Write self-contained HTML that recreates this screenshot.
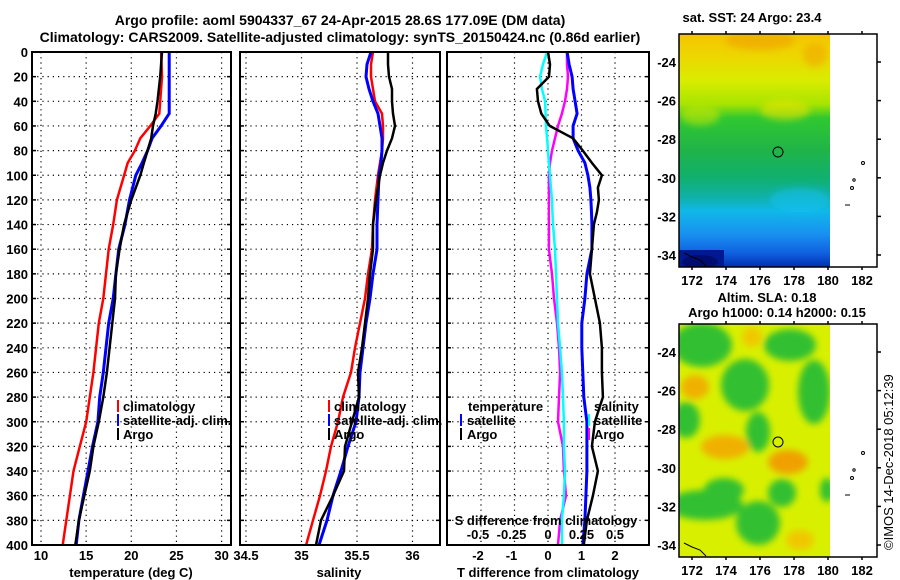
<!DOCTYPE html>
<html><head><meta charset="utf-8"><style>
body{margin:0;background:#fff}
svg{display:block}
text{font-family:"Liberation Sans",sans-serif;font-weight:bold;fill:#000}
</style></head><body>
<svg id="fig" width="900" height="580" viewBox="0 0 900 580" xmlns="http://www.w3.org/2000/svg">
<defs>
<linearGradient id="sstGrad" x1="0" y1="0" x2="0" y2="1">
<stop offset="0" stop-color="#f6c400"/><stop offset="0.1" stop-color="#ecd800"/>
<stop offset="0.2" stop-color="#d8ec00"/><stop offset="0.3" stop-color="#a8e400"/>
<stop offset="0.36" stop-color="#30c830"/><stop offset="0.5" stop-color="#20b448"/>
<stop offset="0.62" stop-color="#10b070"/><stop offset="0.7" stop-color="#10b0a8"/>
<stop offset="0.76" stop-color="#10b8e8"/><stop offset="0.86" stop-color="#1890f0"/>
<stop offset="0.94" stop-color="#1060e0"/><stop offset="1" stop-color="#0030b0"/>
</linearGradient>
<filter id="blur" x="-50%" y="-50%" width="200%" height="200%"><feGaussianBlur stdDeviation="3.5"/></filter>
<clipPath id="m1clip"><rect x="679" y="34" width="151" height="233"/></clipPath>
<clipPath id="m2clip"><rect x="679" y="324" width="151" height="233"/></clipPath>
</defs>

<text x="340" y="25" text-anchor="middle" font-size="14">Argo profile: aoml 5904337_67 24-Apr-2015 28.6S 177.09E (DM data)</text>
<text x="340" y="42" text-anchor="middle" font-size="14">Climatology: CARS2009. Satellite-adjusted climatology: synTS_20150424.nc (0.86d earlier)</text>

<g id="grids"></g>
<g id="series"></g>
<g id="frames"></g>
<g id="labels"></g>

<g font-size="13">
<rect x="117" y="400" width="2" height="12" fill="#f00"/><text x="123" y="411" font-size="13">climatology</text>
<rect x="117" y="414" width="2" height="12" fill="#00f"/><text x="123" y="425" font-size="13">satellite-adj. clim.</text>
<rect x="117" y="428" width="2" height="12" fill="#000"/><text x="123" y="439" font-size="13">Argo</text>
</g>
<g>
<rect x="328" y="400" width="2" height="12" fill="#f00"/><text x="334" y="411" font-size="13">climatology</text>
<rect x="328" y="414" width="2" height="12" fill="#00f"/><text x="334" y="425" font-size="13">satellite-adj. clim.</text>
<rect x="328" y="428" width="2" height="12" fill="#000"/><text x="334" y="439" font-size="13">Argo</text>
</g>
<g>
<text x="468" y="411" font-size="13">temperature</text>
<rect x="460" y="414" width="2" height="12" fill="#00f"/><text x="467" y="425" font-size="13">satellite</text>
<rect x="460" y="428" width="2" height="12" fill="#000"/><text x="467" y="439" font-size="13">Argo</text>
<text x="594" y="411" font-size="13">salinity</text>
<rect x="588" y="414" width="2" height="12" fill="#0ff"/><text x="594" y="425" font-size="13">satellite</text>
<rect x="588" y="428" width="2" height="12" fill="#f0f"/><text x="594" y="439" font-size="13">Argo</text>
</g>

<text x="752" y="22" text-anchor="middle" font-size="13">sat. SST: 24 Argo: 23.4</text>
<g clip-path="url(#m1clip)">
<rect x="679" y="34" width="151" height="233" fill="url(#sstGrad)"/>
<g filter="url(#blur)">
<ellipse cx="760" cy="40" rx="35" ry="10" fill="#f0a800" opacity="0.7"/>
<ellipse cx="815" cy="55" rx="12" ry="12" fill="#f0a800" opacity="0.6"/>
<ellipse cx="785" cy="110" rx="25" ry="10" fill="#e8e400" opacity="0.6"/>
<ellipse cx="700" cy="115" rx="20" ry="10" fill="#c8e800" opacity="0.6"/>
<ellipse cx="800" cy="200" rx="30" ry="12" fill="#18c0f0" opacity="0.6"/>
</g>
<rect x="679" y="250" width="45" height="17" fill="#001890"/>
<ellipse cx="700" cy="262" rx="18" ry="7" fill="#000c70"/>
</g>
<circle cx="778" cy="152" r="5" fill="none" stroke="#000" stroke-width="1"/>
<rect x="679" y="34" width="198" height="233" fill="none" stroke="#000" stroke-width="1.5"/>

<text x="767" y="302" text-anchor="middle" font-size="13">Altim. SLA: 0.18</text>
<text x="777" y="317" text-anchor="middle" font-size="13">Argo h1000: 0.14 h2000: 0.15</text>
<g clip-path="url(#m2clip)">
<rect x="679" y="324" width="151" height="233" fill="#d8f000"/>
<g filter="url(#blur)">
<ellipse cx="702" cy="345" rx="30" ry="22" fill="#30c030"/>
<ellipse cx="745" cy="385" rx="24" ry="26" fill="#30c030"/>
<ellipse cx="758" cy="432" rx="12" ry="20" fill="#30c030"/>
<ellipse cx="790" cy="345" rx="26" ry="16" fill="#30c030"/>
<ellipse cx="814" cy="392" rx="16" ry="32" fill="#30c030"/>
<ellipse cx="686" cy="420" rx="14" ry="18" fill="#30c030"/>
<ellipse cx="705" cy="505" rx="38" ry="15" fill="#30c030"/>
<ellipse cx="758" cy="523" rx="22" ry="22" fill="#30c030"/>
<ellipse cx="782" cy="493" rx="14" ry="14" fill="#30c030"/>
<ellipse cx="827" cy="490" rx="7" ry="12" fill="#30c030"/>
<ellipse cx="724" cy="490" rx="20" ry="12" fill="#30c030"/>
<ellipse cx="695" cy="387" rx="14" ry="12" fill="#f0b000"/>
<ellipse cx="725" cy="447" rx="24" ry="12" fill="#f0b000"/>
<ellipse cx="788" cy="462" rx="20" ry="12" fill="#f0a000"/>
<ellipse cx="752" cy="337" rx="10" ry="10" fill="#f0c800"/>
<ellipse cx="800" cy="540" rx="14" ry="10" fill="#f0c800"/>
</g>
</g>
<circle cx="778" cy="442" r="5" fill="none" stroke="#000" stroke-width="1"/>
<rect x="679" y="324" width="198" height="233" fill="none" stroke="#000" stroke-width="1.5"/>
<g id="mapaxes"></g>
<g fill="none" stroke="#000" stroke-width="1">
<circle cx="863" cy="163" r="1.5"/><circle cx="854" cy="180" r="1.2"/><circle cx="852" cy="188" r="1.5"/><path d="M845 205h5"/>
<circle cx="863" cy="453" r="1.5"/><circle cx="854" cy="470" r="1.2"/><circle cx="852" cy="478" r="1.5"/><path d="M845 495h5"/>
<path d="M684 253 l8 4 l8 3 l6 6"/><path d="M684 543 l8 4 l8 3 l6 6"/>
</g>
<text transform="translate(893,550) rotate(-90)" font-size="13" style="font-weight:normal">©IMOS 14-Dec-2018 05:12:39</text>
</svg>
<script>
const depthsT = [0,20,40,50,60,70,80,90,100,120,140,160,180,200,220,240,260,280,300,320,340,360,380,400];
const climT = [23.3,23.4,23.2,23.1,22.1,21.0,20.4,19.6,19.2,18.4,18.0,17.5,17.2,16.9,16.4,16.1,15.8,15.4,15.0,14.3,13.6,13.2,12.8,12.4];
const satT = [24.2,24.2,24.2,24.2,23.3,22.3,21.8,21.2,20.5,19.8,19.3,18.6,18.3,18.0,17.5,17.2,16.9,16.5,16.3,15.7,15.2,14.7,14.2,13.9];
const argoT = [23.4,23.2,22.9,22.7,22.4,22.2,21.8,21.4,21.0,20.0,19.2,18.7,18.3,18.2,17.9,17.6,17.3,16.9,16.4,15.8,15.4,14.8,14.2,13.8];
const depthsS = [0,10,20,30,40,50,60,70,80,90,100,120,140,160,180,200,220,240,260,280,300,320,340,360,380,400];
const climS = [35.644,35.626,35.626,35.644,35.662,35.725,35.734,35.734,35.725,35.707,35.689,35.662,35.644,35.635,35.599,35.572,35.527,35.482,35.446,35.374,35.329,35.266,35.221,35.167,35.104,35.041];
const satS = [35.626,35.590,35.581,35.608,35.644,35.689,35.707,35.725,35.725,35.716,35.698,35.689,35.680,35.680,35.644,35.617,35.581,35.554,35.527,35.518,35.491,35.419,35.356,35.284,35.230,35.158];
const argoS = [35.779,35.779,35.788,35.815,35.815,35.824,35.842,35.815,35.770,35.734,35.707,35.671,35.644,35.644,35.617,35.599,35.572,35.545,35.509,35.518,35.455,35.392,35.383,35.284,35.176,35.131];
const depthsD = [0,10,20,30,40,50,60,70,80,90,100,110,120,130,140,160,180,200,220,240,260,280,300,320,340,360,380,400];
const satDT = [0.57,0.63,0.72,0.75,0.81,0.87,0.75,0.75,0.90,1.10,1.19,1.25,1.28,1.30,1.31,1.31,1.16,1.10,1.01,1.01,1.04,1.07,1.16,1.16,1.16,1.13,1.10,1.04];
const argoDT = [0,0.06,0.03,-0.33,-0.30,-0.20,0.05,0.75,1.04,1.31,1.61,1.49,1.52,1.46,1.37,1.31,1.25,1.40,1.55,1.61,1.61,1.64,1.40,1.31,1.49,1.34,1.16,1.07];
const satDS = [-0.007,-0.037,-0.06,-0.045,-0.022,-0.018,-0.015,-0.007,0,0.007,0.015,0.022,0.03,0.033,0.037,0.052,0.06,0.067,0.075,0.09,0.104,0.112,0.119,0.119,0.127,0.119,0.104,0.104];
const argoDS = [0.142,0.142,0.149,0.142,0.127,0.104,0.075,0.052,0.03,0.015,0.007,0.007,0.007,0.007,0.007,0.007,0.03,0.045,0.067,0.082,0.09,0.082,0.075,0.112,0.119,0.134,0.09,0.075];
const depthTicks = [0,20,40,60,80,100,120,140,160,180,200,220,240,260,280,300,320,340,360,380,400];
const tTicks = [10,15,20,25,30];
const sTicks = [34.5,35,35.5,36];
const sTickLabels = ["34.5","35","35.5","36"];
const dTTicks = [-2,-1,0,1,2];
const dSTicks = [-0.5,-0.25,0,0.25,0.5];
const dSTickLabels = ["-0.5","-0.25","0","0.25","0.5"];
const lonTicks = [172,174,176,178,180,182];
const latTicks = [-24,-26,-28,-30,-32,-34];

const yD = d => 52 + d * 1.2325;
const xT = t => 41 + (t - 10) * 9.03;
const xS = s => 246 + (s - 34.5) * 111;
const xDT = v => 548 + v * 33.5;
const xDS = v => 548 + v * 134;
const xLon = l => 692 + (l - 172) * 17;
const yLat = (l, top) => top + 28 + (-24 - l) * 19.3;

const NS = "http://www.w3.org/2000/svg";
function mk(tag, attrs, parent) {
  const e = document.createElementNS(NS, tag);
  for (const k in attrs) e.setAttribute(k, attrs[k]);
  parent.appendChild(e);
  return e;
}
const G = document.getElementById('grids'), S = document.getElementById('series'),
      F = document.getElementById('frames'), L = document.getElementById('labels'),
      M = document.getElementById('mapaxes');

const panels = [
  {x0:32,x1:231,xs:tTicks.map(xT),name:'temperature'},
  {x0:240,x1:440,xs:sTicks.map(xS),name:'salinity'},
  {x0:447,x1:649,xs:dTTicks.map(xDT),name:'difference'}
];
panels.forEach(p => {
  depthTicks.forEach(d => {
    if (d > 0 && d < 400) {
      const gl = mk('line', {x1:p.x0, x2:p.x1, y1:yD(d), y2:yD(d), stroke:'#000', 'stroke-width':1.2, 'stroke-dasharray':'1.2 4'}, G);
      
      
    }
    mk('line', {x1:p.x0, x2:p.x0+4, y1:yD(d), y2:yD(d), stroke:'#000', 'stroke-width':1.5}, G);
    mk('line', {x1:p.x1-4, x2:p.x1, y1:yD(d), y2:yD(d), stroke:'#000', 'stroke-width':1.5}, G);
  });
  p.xs.forEach(x => {
    const vl = mk('line', {x1:x, x2:x, y1:52, y2:545, stroke:'#000', 'stroke-width':1.2, 'stroke-dasharray':'1.2 4'}, G);
    
    
  });
  const fr = mk('rect', {x:p.x0, y:52, width:p.x1-p.x0, height:493, fill:'none', stroke:'#000', 'stroke-width':2}, F);
  
  
});

function line(xs, ds, fx, color, w, name) {
  const pts = xs.map((v, i) => fx(v).toFixed(1) + ',' + yD(ds[i]).toFixed(1)).join(' ');
  const pl = mk('polyline', {points:pts, fill:'none', stroke:color, 'stroke-width':w}, S);
  
  
}
line(climT, depthsT, xT, '#f00', 2.5, 'temperature-climatology-line');
line(satT, depthsT, xT, '#00f', 3, 'temperature-satellite-line');
line(argoT, depthsT, xT, '#000', 2.5, 'temperature-argo-line');
line(climS, depthsS, xS, '#f00', 2.5, 'salinity-climatology-line');
line(satS, depthsS, xS, '#00f', 3, 'salinity-satellite-line');
line(argoS, depthsS, xS, '#000', 2.5, 'salinity-argo-line');
line(argoDS, depthsD, xDS, '#f0f', 2.5, 'salinity-diff-argo-line');
line(satDS, depthsD, xDS, '#0ff', 2.5, 'salinity-diff-satellite-line');
line(satDT, depthsD, xDT, '#00f', 3, 'temperature-diff-satellite-line');
line(argoDT, depthsD, xDT, '#000', 2.5, 'temperature-diff-argo-line');

function txt(x, y, s, anchor, name) {
  const t = mk('text', {x:x, y:y, 'text-anchor':anchor, 'font-size':13}, L);
  t.textContent = s;
  
  
  return t;
}
depthTicks.forEach(d => txt(28, yD(d) + 5, String(d), 'end', 'depth-tick-label'));
tTicks.forEach(t => txt(xT(t), 560, String(t), 'middle', 'temperature-tick-label'));
sTicks.forEach((s, i) => txt(xS(s), 560, sTickLabels[i], 'middle', 'salinity-tick-label'));
dTTicks.forEach(v => txt(xDT(v) - (v < 0 ? 3 : 0), 560, String(v), 'middle', 'tdiff-tick-label'));
dSTicks.forEach((v, i) => txt(xDS(v) - (v < 0 ? 3 : 0), 539, dSTickLabels[i], 'middle', 'sdiff-tick-label'));
txt(546, 525, 'S difference from climatology', 'middle', 'sdiff-axis-title');
txt(131, 577, 'temperature (deg C)', 'middle', 'temperature-axis-title');
txt(339, 577, 'salinity', 'middle', 'salinity-axis-title');
txt(548, 577, 'T difference from climatology', 'middle', 'tdiff-axis-title');

[34, 324].forEach(top => {
  const bottom = top + 233;
  lonTicks.forEach(l => {
    const x = xLon(l);
    mk('line', {x1:x, x2:x, y1:top-3, y2:top, stroke:'#000', 'stroke-width':1.5}, M);
    mk('line', {x1:x, x2:x, y1:bottom, y2:bottom+3, stroke:'#000', 'stroke-width':1.5}, M);
    const t = mk('text', {x:x, y:bottom + 18, 'text-anchor':'middle', 'font-size':13}, M);
    t.textContent = String(l);
    
    
  });
  latTicks.forEach(l => {
    const y = yLat(l, top);
    mk('line', {x1:877, x2:881, y1:y, y2:y, stroke:'#000', 'stroke-width':1.5}, M);
    const t = mk('text', {x:676, y:y + 5, 'text-anchor':'end', 'font-size':13}, M);
    t.textContent = String(l);
    
    
  });
});
</script>
</body></html>
